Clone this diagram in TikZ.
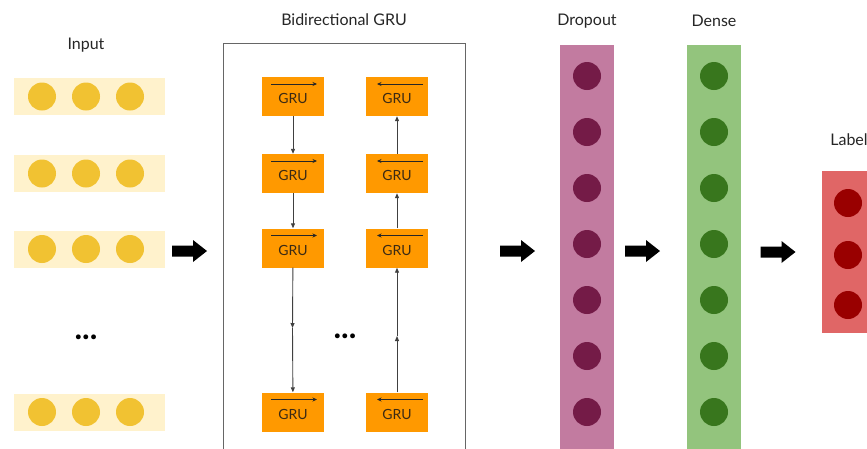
\documentclass[tikz,border=0pt]{standalone}
\usepackage{fontspec}
\setmainfont{Lato}
\usetikzlibrary{arrows.meta}
\definecolor{inbar}{HTML}{FFF2CC}
\definecolor{indot}{HTML}{F1C232}
\definecolor{grufill}{HTML}{FF9900}
\definecolor{grutext}{HTML}{3B2A14}
\definecolor{dropbar}{HTML}{C27BA0}
\definecolor{dropdot}{HTML}{741B47}
\definecolor{densebar}{HTML}{93C47D}
\definecolor{densedot}{HTML}{38761D}
\definecolor{labelbar}{HTML}{E06666}
\definecolor{labeldot}{HTML}{990000}
\definecolor{frame}{HTML}{666666}

\begin{document}
\begin{tikzpicture}[x=1pt,y=-1pt,
  title/.style={font=\fontsize{16}{18}\selectfont, text=black!85},
  dot/.style={circle, inner sep=0pt, minimum size=28pt},
  inrow/.style={fill=inbar, inner sep=0pt, minimum width=151pt, minimum height=37pt},
  column/.style={inner sep=0pt, minimum width=54pt, minimum height=405pt},
  grubox/.style={fill=grufill, inner sep=0pt, minimum width=62pt, minimum height=39pt},
  grulabel/.style={text=grutext, font=\fontsize{14}{16}\selectfont, inner sep=0pt},
  dirline/.style={draw=black!85, line width=0.9pt, -{Stealth[length=4.5pt,width=4pt]}},
  link/.style={draw=black!75, line width=0.9pt, -{Triangle[length=5pt,width=4pt]}},
  ellipsis/.style={font=\fontsize{32}{34}\bfseries\selectfont, inner sep=0pt},
  fatarrow/.pic={\fill[black] (-17.5,-5.5) -- (3.5,-5.5) -- (3.5,-11) -- (17.5,0)
                   -- (3.5,11) -- (3.5,5.5) -- (-17.5,5.5) -- cycle;}
]
\clip (0,0) rectangle (867,448);
\fill[white] (0,0) rectangle (867,448);

% ---------- input sequence ----------
\node[title] (tin) at (86,45) {Input};
\foreach \n/\y in {1/96.5, 2/173.5, 3/249, 5/412} {
  \node[inrow] (in\n) at (89.5,\y) {};
  \foreach \c/\x in {a/42, b/86, c/130}
    \node[dot, fill=indot] (in\n\c) at (\x,\y) {};
}
\node[ellipsis] (indots) at (86,337) {...};

\pic at (189.5,251) {fatarrow};

% ---------- bidirectional GRU ----------
\node[title] (tgru) at (344,20) {Bidirectional GRU};
\draw[frame, line width=1pt] (223,460) -- (223,43) -- (465.5,43) -- (465.5,460);

\foreach \n/\y in {1/96.5, 2/173.5, 3/248, 4/412} {
  % forward cell
  \node[grubox] (gl\n) at (293,\y) {};
  \node[grulabel] at (293,\y+2) {GRU};
  \draw[dirline] (293-22,\y-12.5) -- (293+24,\y-12.5);
  % backward cell
  \node[grubox] (gr\n) at (397,\y) {};
  \node[grulabel] at (397,\y+2) {GRU};
  \draw[dirline] (397+26,\y-12.5) -- (397-20,\y-12.5);
}
\node[ellipsis] (grudots) at (345,336) {...};

% forward chain
\draw[link] (gl1) -- (gl2);
\draw[link] (gl2) -- (gl3);
\coordinate (gm) at (292.5,328);
\draw[link] (gl3) -- (gm);
\draw[link] (gm) -- (gl4);
% backward chain
\coordinate (rm) at (397,336);
\draw[link] (gr4) -- (rm);
\draw[link] (rm) -- (gr3);
\draw[link] (gr3) -- (gr2);
\draw[link] (gr2) -- (gr1);

\pic at (517.5,251) {fatarrow};

% ---------- dropout ----------
\node[title] (tdrop) at (587,21) {Dropout};
\node[column, fill=dropbar] (drop) at (587,247.5) {};
\foreach \k in {0,...,6}
  \node[dot, fill=dropdot] (drop\k) at (587,76+56*\k) {};

\pic at (642.5,251) {fatarrow};

% ---------- dense ----------
\node[title] (tdense) at (714,21) {Dense};
\node[column, fill=densebar] (dense) at (714,247.5) {};
\foreach \k in {0,...,6}
  \node[dot, fill=densedot] (dense\k) at (714,76+56*\k) {};

\pic at (778,252) {fatarrow};

% ---------- label ----------
\node[title] (tlab) at (849,140) {Label};
\node[fill=labelbar, inner sep=0pt, minimum width=50pt, minimum height=162pt] (lab) at (847,252) {};
\foreach \k/\y in {0/203, 1/255, 2/305}
  \node[dot, fill=labeldot] (lab\k) at (848,\y) {};
\end{tikzpicture}
\end{document}
